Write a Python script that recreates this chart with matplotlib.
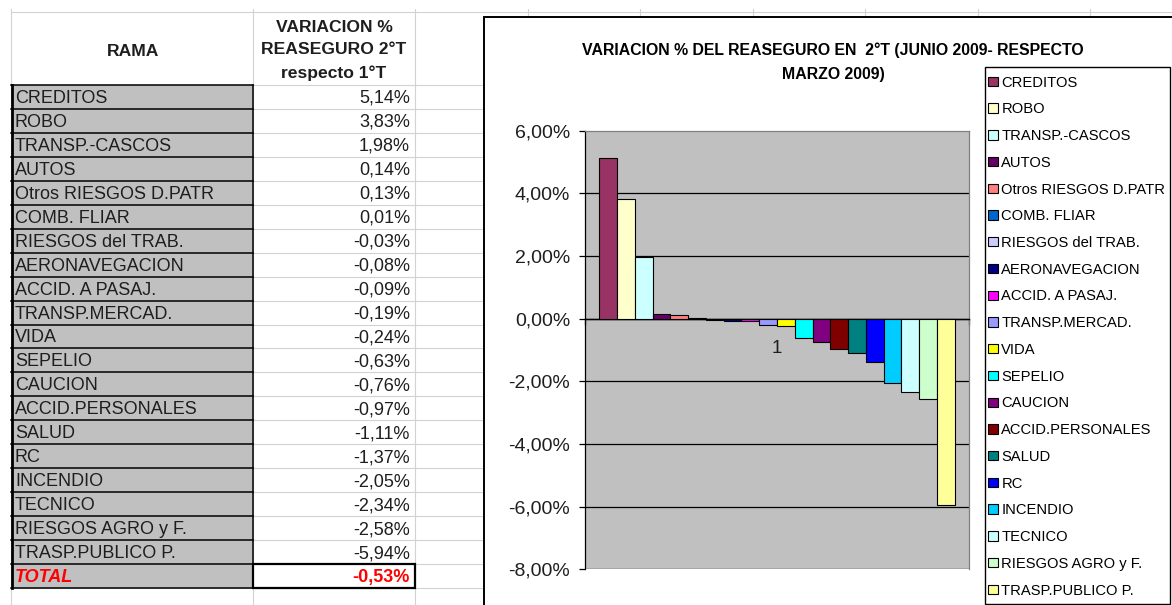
import matplotlib
matplotlib.use('Agg')
import matplotlib.pyplot as plt
from matplotlib.patches import Rectangle
from matplotlib.ticker import FuncFormatter

plt.rcParams['font.family'] = ['Liberation Sans', 'DejaVu Sans']

# ---------------- data ----------------
ramas = ['CREDITOS', 'ROBO', 'TRANSP.-CASCOS', 'AUTOS', 'Otros RIESGOS D.PATR',
         'COMB. FLIAR', 'RIESGOS del TRAB.', 'AERONAVEGACION', 'ACCID. A PASAJ.',
         'TRANSP.MERCAD.', 'VIDA', 'SEPELIO', 'CAUCION', 'ACCID.PERSONALES',
         'SALUD', 'RC', 'INCENDIO', 'TECNICO', 'RIESGOS AGRO y F.', 'TRASP.PUBLICO P.']
variacion = [5.14, 3.83, 1.98, 0.14, 0.13, 0.01, -0.03, -0.08, -0.09, -0.19,
             -0.24, -0.63, -0.76, -0.97, -1.11, -1.37, -2.05, -2.34, -2.58, -5.94]
total_label = 'TOTAL'
total_value = -0.53
categorias = ['1']
yticks = [-8, -6, -4, -2, 0, 2, 4, 6]
header_rama = 'RAMA'
header_var = ['VARIACION %', 'REASEGURO 2°T', 'respecto 1°T']
titulo = ['VARIACION % DEL REASEGURO EN  2°T (JUNIO 2009- RESPECTO', 'MARZO 2009)']
colores = ['#993366', '#FFFFCC', '#CCFFFF', '#660066', '#FF8080', '#0066CC', '#CCCCFF',
           '#000080', '#FF00FF', '#9999FF', '#FFFF00', '#00FFFF', '#800080', '#800000',
           '#008080', '#0000FF', '#00CCFF', '#CCFFFF', '#CCFFCC', '#FFFF99']


def pct(v):
    return f"{v:.2f}".replace('.', ',') + '%'


W, H = 1172, 605
fig = plt.figure(figsize=(W / 100, H / 100), dpi=100)
fig.patch.set_facecolor('white')

bg = fig.add_axes([0, 0, 1, 1], zorder=0)
bg.set_xlim(0, W)
bg.set_ylim(H, 0)
bg.axis('off')

light = '#D2D2D2'
txt_col = '#1e1e1e'
row_h = 23.95
y0 = 85
nrows = len(ramas) + 1

# spreadsheet grid
for x in [11, 253, 415, 528, 640, 753, 865, 978, 1090]:
    bg.plot([x, x], [9, H], color=light, lw=0.8, zorder=1)
bg.plot([11, W], [12, 12], color=light, lw=0.8, zorder=1)
for i in range(nrows + 2):
    y = y0 + i * row_h
    bg.plot([11, 484], [y, y], color=light, lw=0.8, zorder=1)

# grey name cells with black borders
bg.add_patch(Rectangle((12, y0), 241, nrows * row_h, fc='#C0C0C0', ec='none', zorder=2))
for i in range(nrows + 1):
    y = y0 + i * row_h
    bg.plot([11, 253], [y, y], color='black', lw=1.1, zorder=3)
bg.plot([253, 253], [y0, y0 + nrows * row_h], color='black', lw=1.1, zorder=3)
bg.plot([11.5, 11.5], [y0, y0 + nrows * row_h], color='black', lw=2.0, zorder=3)
# total value cell
bg.add_patch(Rectangle((253, y0 + (nrows - 1) * row_h), 162, row_h, fc='white',
                       ec='black', lw=1.6, zorder=3))

# header text
bg.text(133, 51, header_rama, ha='center', va='center', fontsize=12.6,
        fontweight='bold', color=txt_col, zorder=4)
for k, t in enumerate(header_var):
    bg.text(334, 27 + k * 23, t, ha='center', va='center', fontsize=12.6,
            fontweight='bold', color=txt_col, zorder=4)

# rows
for i, (r, v) in enumerate(zip(ramas, variacion)):
    yc = y0 + (i + 0.5) * row_h + 1.5
    bg.text(15, yc, r, ha='left', va='center', fontsize=13, color=txt_col, zorder=4)
    bg.text(410, yc, pct(v), ha='right', va='center', fontsize=13, color=txt_col, zorder=4)
yc = y0 + (nrows - 0.5) * row_h + 1.5
bg.text(15, yc, total_label, ha='left', va='center', fontsize=13, color='#FF0000',
        fontweight='bold', fontstyle='italic', zorder=4)
bg.text(410, yc, pct(total_value), ha='right', va='center', fontsize=13, color='#FF0000',
        fontweight='bold', zorder=4)

# chart area
bg.add_patch(Rectangle((484, 17), 800, 700, fc='white', ec='black', lw=1.4, zorder=5))
bg.add_patch(Rectangle((985, 67), 185, 537, fc='white', ec='black', lw=1.0, zorder=6))
for k, t in enumerate(titulo):
    bg.text(833, 50 + k * 24.5, t, ha='center', va='center', fontsize=11.4,
            fontweight='bold', color='black', zorder=7)

# plot area
pl, pr, pt, pb = 585, 969, 130.7, 569.3
ax = fig.add_axes([pl / W, 1 - pb / H, (pr - pl) / W, (pb - pt) / H], zorder=1)
ax.set_facecolor('#C0C0C0')

n = len(variacion)
cluster = 0.925
w = cluster / n
for i, (r, v, c) in enumerate(zip(ramas, variacion, colores)):
    xi = -cluster / 2 + w * (i + 0.5)
    ax.bar(xi, v, width=w, color=c, edgecolor='black', linewidth=0.8, zorder=3, label=r)

ax.set_xlim(-0.5, 0.5)
ax.set_ylim(yticks[0], yticks[-1])
ax.set_yticks(yticks)
ax.yaxis.set_major_formatter(FuncFormatter(lambda v, p: pct(v)))
ax.set_axisbelow(True)
ax.yaxis.grid(True, color='black', lw=0.9)
ax.yaxis.get_gridlines()[-1].set_visible(False)

for s in ['top', 'right']:
    ax.spines[s].set_color('#808080')
    ax.spines[s].set_linewidth(0.9)
ax.spines['left'].set_color('black')
ax.spines['left'].set_linewidth(0.9)
ax.spines['bottom'].set_position(('data', 0))
ax.spines['bottom'].set_color('black')
ax.spines['bottom'].set_linewidth(1.0)

ax.tick_params(axis='y', direction='out', length=4.3, width=0.9, pad=6.5,
               labelsize=14, labelcolor=txt_col)
ax.set_xticks([0])
ax.set_xticklabels(categorias)
ax.tick_params(axis='x', which='major', length=0, pad=15.5, labelsize=13.5, labelcolor=txt_col)
ax.set_xticks([-0.5, 0.5], minor=True)
ax.tick_params(axis='x', which='minor', length=4.3, width=0.9, direction='out')

handles, labels = ax.get_legend_handles_labels()
fig.legend(handles, labels, loc='upper left', bbox_to_anchor=(988 / W, 1 - 75.6 / H),
           frameon=False, fontsize=10.6, labelspacing=0.865, handlelength=0.66,
           handleheight=0.6, handletextpad=0.25, borderpad=0, borderaxespad=0)

fig.savefig('out.png', dpi=100)
